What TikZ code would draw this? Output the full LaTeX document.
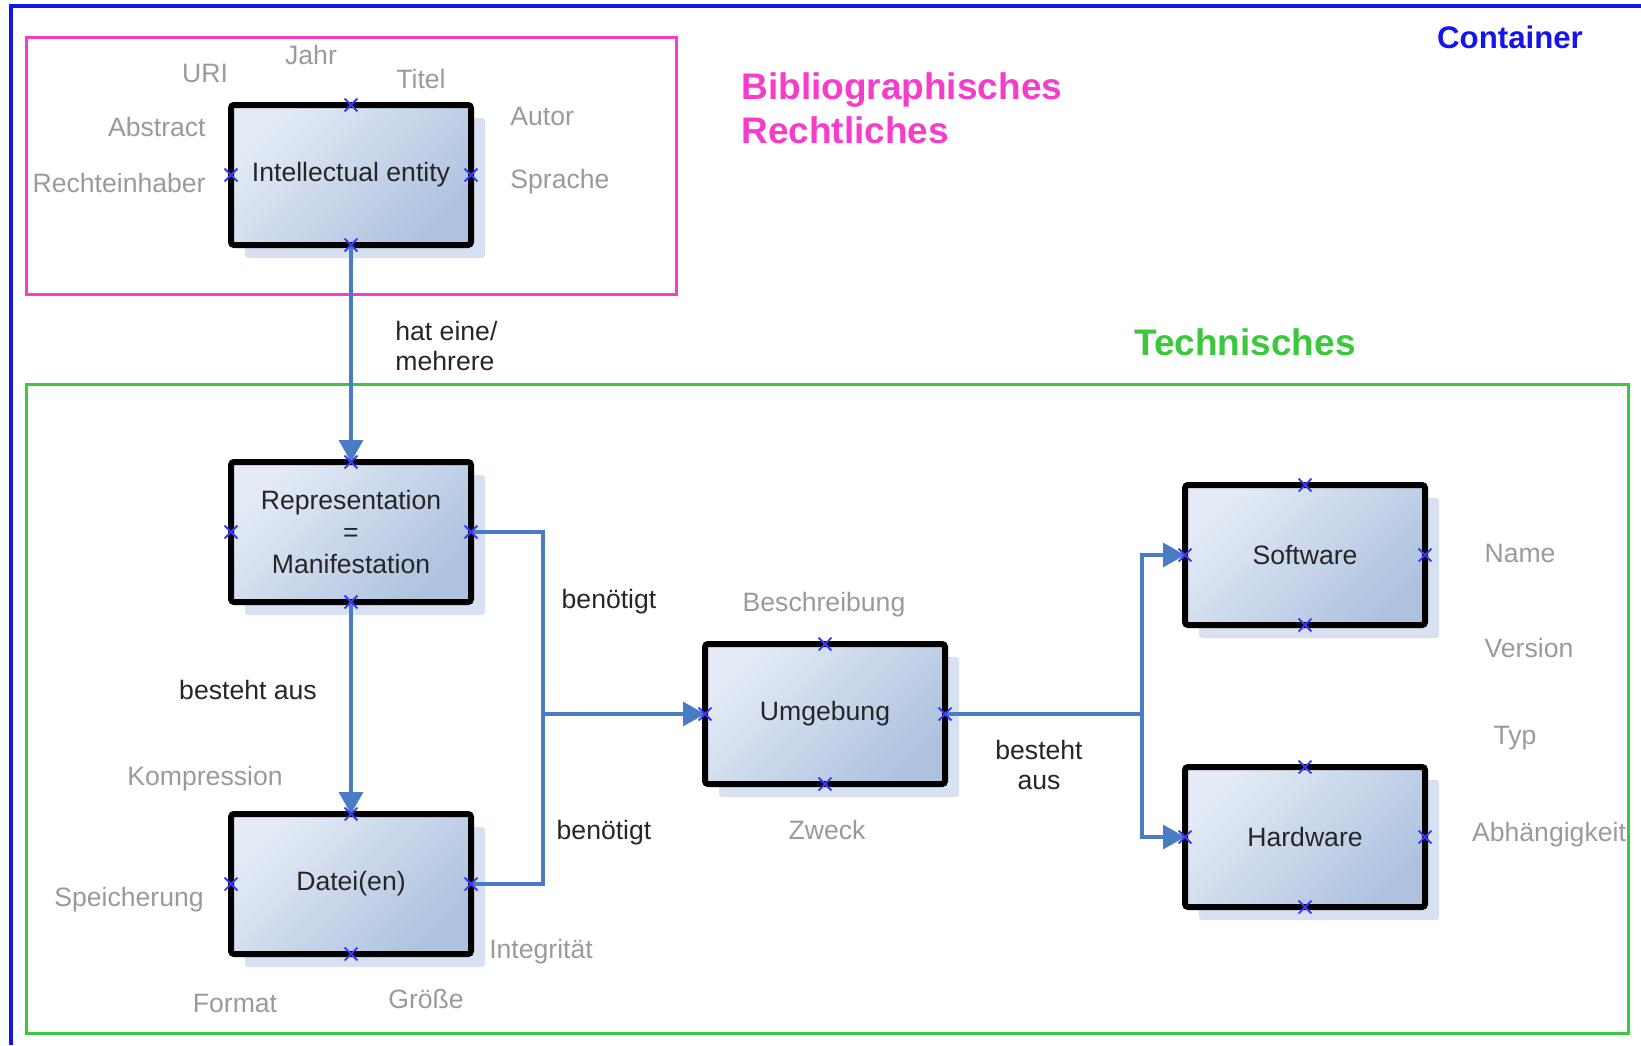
\documentclass[tikz,border=0pt]{standalone}
\usepackage{fontspec}
\setmainfont{Liberation Sans}
\usetikzlibrary{arrows.meta,shadows,shapes.misc}

\definecolor{containerblue}{HTML}{1414F0}
\definecolor{biblopink}{HTML}{F53CCB}
\definecolor{technogreen}{HTML}{3CC83C}
\definecolor{linkblue}{HTML}{4A7CC6}
\definecolor{boxlight}{HTML}{E4EBF6}
\definecolor{boxdark}{HTML}{AEC2DF}
\definecolor{boxshadow}{HTML}{D7E1F1}
\definecolor{attrgray}{HTML}{9A9A9A}
\definecolor{pointblue}{HTML}{3A3AFF}

\tikzset{
  entity/.style={draw=black, line width=3pt, rounded corners=1.5pt, outer sep=0pt,
    top color=boxlight, bottom color=boxdark, shading angle=45,
    general shadow={fill=boxshadow, shadow xshift=7pt, shadow yshift=-6.5pt},
    minimum width=120pt, minimum height=70pt, align=center, text=black!85,
    font=\fontsize{13.3}{16}\selectfont},
  attr/.style={text=attrgray, font=\fontsize{13.3}{16}\selectfont, inner sep=0pt},
  rel/.style={text=black!85, font=\fontsize{13.3}{15}\selectfont, inner sep=0pt, align=center},
  link/.style={draw=linkblue, line width=1.7pt},
  linkarrow/.style={link, -{Triangle[length=11pt,width=12pt]}},
  xpoint/.style={cross out, draw=pointblue, line width=0.9pt, minimum size=5.5pt, inner sep=0pt},
  heading/.style={font=\bfseries\fontsize{18.5}{22}\selectfont, inner sep=0pt, align=left}
}

\begin{document}
\begin{tikzpicture}[x=0.5pt,y=-0.5pt]
	\useasboundingbox (0,0) rectangle (1641,1045);
	\draw[containerblue, line width=1.6pt] (1641,6) -- (11,6) -- (11,1045);
	\draw[biblopink, line width=1.5pt] (26,37) rectangle (676,294);
	\draw[technogreen, line width=1.5pt] (26,384) rectangle (1628,1033);
	\node[heading, text=containerblue, font=\bfseries\fontsize{15.6}{18}\selectfont] (container) at (1510,37) {Container};
	\node[heading, text=biblopink, anchor=west] (biblio) at (741,108) {Bibliographisches\\Rechtliches};
	\node[heading, text=technogreen] (techn) at (1245,342) {Technisches};

	\node[entity] (ie) at (351,175) {Intellectual entity};
	\node[entity] (rep) at (351,532) {Representation\\=\\Manifestation};
	\node[entity] (datei) at (351,884) {Datei(en)};
	\node[entity] (umg) at (825,714) {Umgebung};
	\node[entity] (sw) at (1305,555) {Software};
	\node[entity] (hw) at (1305,837) {Hardware};

	\coordinate (fork) at (543,714);
	\coordinate (split) at (1142,714);
	\draw[linkarrow] (ie.south) -- (rep.north);
	\draw[linkarrow] (rep.south) -- (datei.north);
	\draw[link] (rep.east) -| (fork);
	\draw[link] (datei.east) -| (fork);
	\draw[linkarrow] (fork) -- (umg.west);
	\draw[link] (umg.east) -- (split);
	\draw[linkarrow] (split) |- (sw.west);
	\draw[linkarrow] (split) |- (hw.west);

	\foreach \b in {ie,rep,datei,umg,sw,hw}
		\foreach \a in {north,south,east,west}
			\node[xpoint] (\b-\a) at (\b.\a) {};

	\node[rel, align=left, anchor=west] (hat) at (395,346) {hat eine/\\mehrere};
	\node[rel] (ben1) at (609,602) {benötigt};
	\node[rel] (ben2) at (604,833) {benötigt};
	\node[rel] (best1) at (248,690) {besteht aus};
	\node[rel] (best2) at (1039,765) {besteht\\aus};

	\node[attr] (uri) at (205,73) {URI};
	\node[attr] (jahr) at (311,55) {Jahr};
	\node[attr] (titel) at (421,79) {Titel};
	\node[attr, anchor=east] (abstract) at (206,127) {Abstract};
	\node[attr, anchor=east] (rechte) at (206,183) {Rechteinhaber};
	\node[attr, anchor=west] (autor) at (510,116) {Autor};
	\node[attr, anchor=west] (sprache) at (510,182) {Sprache};
	\node[attr] (kompr) at (205,779) {Kompression};
	\node[attr] (speich) at (129,900) {Speicherung};
	\node[attr] (format) at (235,1003) {Format};
	\node[attr] (groesse) at (426,999) {Größe};
	\node[attr] (integr) at (541,952) {Integrität};
	\node[attr] (beschr) at (824,605) {Beschreibung};
	\node[attr] (zweck) at (827,830) {Zweck};
	\node[attr] (name) at (1520,553) {Name};
	\node[attr] (version) at (1529,648) {Version};
	\node[attr] (typ) at (1515,738) {Typ};
	\node[attr] (abh) at (1549,835) {Abhängigkeit};
\end{tikzpicture}
\end{document}
